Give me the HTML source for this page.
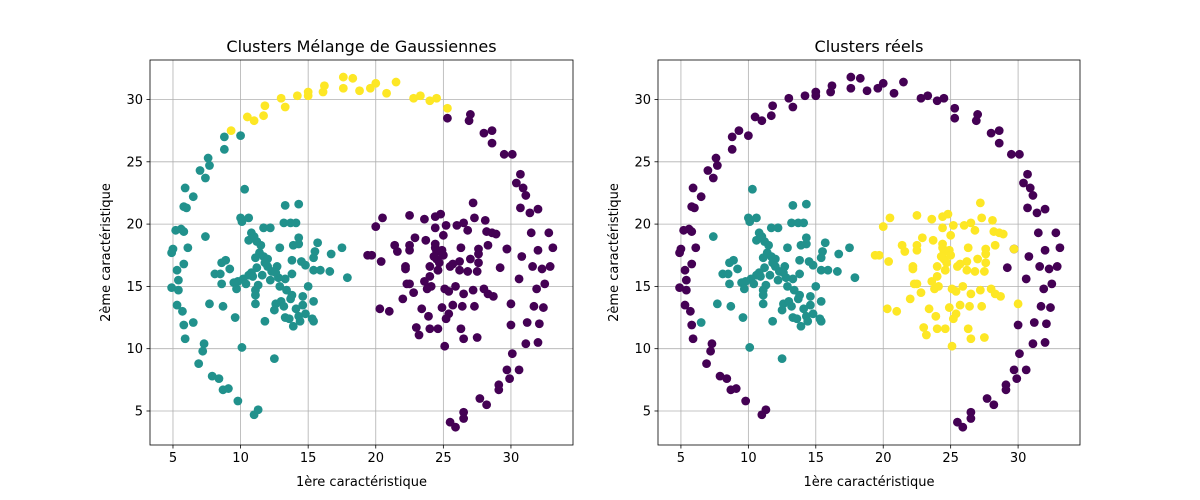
<!DOCTYPE html>
<html><head><meta charset="utf-8"><style>
html,body{margin:0;padding:0;background:#fff;}
svg{display:block;font-family:"DejaVu Sans","Liberation Sans",sans-serif;}
</style></head><body>
<svg id="fig" width="1200" height="500" viewBox="0 0 1200 500"></svg>
<script>
const ringX=[9.3,10.5,11,11.7,11.8,13,13.3,14.2,15,15,16.1,16.2,17.6,17.6,18.3,18.8,19.6,20,20.8,21.5,22.8,23.3,24,24.5,25.3,
10,8.8,8.8,7.6,7.7,7,7.4,5.9,6.5,6,5.8,5.6,5.2,5.8,5,4.9,6.1,5.3,5.8,4.9,5.4,5.4,5.3,5.7,5.8,5.9,6.9,7.3,7.2,7.9,8.4,8.7,9.1,9.8,11,11.3,
25.3,26.9,27,28,28.6,28.6,29.5,30.1,30.7,30.4,30.9,31.1,30.7,31.4,32,31.5,32.8,33.1,32,30.8,31.6,32.3,32.9,32.5,31.9,30.6,31.7,32.4,31.2,32.1,31.1,32,30,30.1,29.7,30.6,29.9,29.1,29.1,27.7,28.2,26.5,26.5,25.5,25.9,29.2,29.7];
const ringY=[27.5,28.6,28.3,28.7,29.5,30.1,29.4,30.3,30.3,30.6,30.6,31.1,31.8,30.9,31.7,30.7,30.9,31.3,30.5,31.4,30.1,30.3,29.9,30.1,29.3,
27.1,27,26,25.3,24.7,24.3,23.7,22.9,22.2,21.3,21.4,19.6,19.5,19.4,18,17.7,18.1,16.3,16.8,14.9,15.5,14.7,13.5,13.0,11.9,10.8,8.8,10.4,9.8,7.8,7.6,6.7,6.8,5.8,4.7,5.1,
28.5,28.3,28.8,27.3,27.5,26.5,25.6,25.6,24,23.3,22.9,22.3,21.3,20.9,21.2,19.3,19.3,18.1,17.9,17.4,16.6,16.4,16.6,15.2,14.8,15.6,13.4,13.3,12.1,12,10.4,10.5,11.9,9.6,8.3,8.3,7.6,7.1,6.7,6,5.5,4.9,4.4,4.1,3.7,16.5,18];
const ringGmm=[].concat(Array(25).fill(2),Array(36).fill(1),Array(47).fill(0));
const leftX=[10.3,10,10.6,10.1,13.3,14.3,13.2,13.7,14.1,7.4,10.8,10.6,11.2,11.7,12.2,12.9,13.9,14.3,14.3,15.7,15.5,15.4,16.7,17.5,11.4,11.7,8.9,8.6,11.1,13.8,14.5,14.8,9.2,12,12.7,11.2,10.8,8.1,8.5,15.4,15.9,16.6,17.9,13.8,13.3,12.8,12.2,10.6,10.2,9.8,9.5,8.6,9.7,10.4,11.3,11.1,12.9,13.4,15,13.8,13.7,14.6,11.1,11.1,12.6,13,13.2,15.4,14.6,14.1,14.8,14.3,12.5,13.3,13.6,15.3,15.4,14.4,13.9,11.8,9.6,7.7,8.7,6.5,10.1,12.5,11,11.5,12,11.8,12.3,11.6,10.9,12.6];
const leftY=[22.8,20.5,20.5,20.2,21.5,21.6,20.1,20.1,20.1,19,19.3,18.7,18.6,19.7,19.7,18.1,18.3,18.4,18.9,18.5,17.8,17.3,17.6,18.1,17.7,17.4,17.1,16.9,17.3,17.1,17,16.7,16.4,16.6,16.6,16.5,16.1,16,16,16.3,16.3,16.2,15.7,16,15.6,15.7,15.5,15.9,15.6,15.4,15.3,15.2,14.8,15.2,15.1,14.7,15,14.7,15,14.3,14,14.2,14.3,13.6,13.6,13.8,13.4,13.8,13.5,13.2,12.8,12.6,13.1,12.5,12.4,12.4,12.2,12.2,11.8,12.2,12.5,13.6,13.4,12.1,10.1,9.2,19,18.3,17.2,16.9,16.2,15.9,15.8,16.1];
const rightX=[27.2,20.5,20,22.5,23.6,24.4,24.8,24.4,25.2,26,26.5,26.8,27.3,28.1,28.2,28.6,28.9,22.9,23.7,24.4,25,21.4,21.6,22.5,22.5,24.5,24.9,24.5,24.7,26.3,27.6,27.6,28.3,29.7,19.4,19.7,20.4,22.2,22.2,24,24.6,25.5,26.2,25.7,27,27.6,26.2,26.8,27.5,23.6,24,22.3,22.5,23.8,24.1,22.8,22,25.1,25.9,25.4,26.5,27.2,28,28.3,28.7,20.3,21,23.4,23.9,24.9,25.7,26.4,27.3,25.4,25.2,23,23.2,24,24.6,26.3,26.5,27.5,25.1,24.4,24.3,24.6,25,30];
const rightY=[21.7,20.5,19.8,20.7,20.4,20.6,20.8,19.7,19.9,19.9,20.1,19.5,20.5,20.3,19.4,19.3,19.2,18.9,18.7,18.4,19.1,18.3,17.8,18.3,17.9,17.8,17.9,17.2,16.9,18.1,18,17.6,18.3,18,17.5,17.5,17,16.6,16.4,16.6,16.3,16.6,17,16.8,17.2,16.9,16.3,16.2,16.2,15.4,15.8,15.2,15.2,14.8,15,14.5,14,14.8,15,14.6,14.4,14.7,14.8,14.4,14.2,13.2,13,13.2,12.6,13.3,13.5,13.4,13.4,12.8,12.4,11.7,11.1,11.6,11.6,11.6,10.8,10.9,10.2,18.1,17.4,16.3,17.5,13.6];
const xTicks=[5,10,15,20,25,30];
const yTicks=[5,10,15,20,25,30];
const colors=['#440154','#21918c','#fde725'];

const NS='http://www.w3.org/2000/svg';
const svg=document.getElementById('fig');
function mk(tag,attrs,parent){const e=document.createElementNS(NS,tag);for(const k in attrs)e.setAttribute(k,attrs[k]);(parent||svg).appendChild(e);return e;}

const xmin=3.30,xmax=34.59,ymin=2.27,ymax=33.17;
const panels=[
 {left:150,right:573,title:'Clusters Mélange de Gaussiennes',key:'gmm'},
 {left:658,right:1080,title:'Clusters réels',key:'true'}];
const plotTop=60,plotBottom=445;

const allX=[].concat(ringX,leftX,rightX);
const allY=[].concat(ringY,leftY,rightY);
const gmmLab=[].concat(ringGmm,Array(leftX.length).fill(1),Array(rightX.length).fill(0));
const trueLab=[].concat(Array(ringX.length).fill(0),Array(leftX.length).fill(1),Array(rightX.length).fill(2));

panels.forEach((p,pi)=>{
  const sx=v=>p.left+(v-xmin)/(xmax-xmin)*(p.right-p.left);
  const sy=v=>plotBottom-(v-ymin)/(ymax-ymin)*(plotBottom-plotTop);
  const g=mk('g',{});
  
  
  xTicks.forEach(t=>{
    const l=mk('line',{x1:sx(t),x2:sx(t),y1:plotTop,y2:plotBottom,stroke:'#b0b0b0','stroke-width':0.8},g);
    
    
    mk('line',{x1:sx(t),x2:sx(t),y1:plotBottom,y2:plotBottom+3.5,stroke:'#000','stroke-width':0.8},g);
    const tx=mk('text',{x:sx(t),y:plotBottom+17,'font-size':13,'text-anchor':'middle',fill:'#000'},g);
    tx.textContent=t;
    
    
  });
  yTicks.forEach(t=>{
    const l=mk('line',{x1:p.left,x2:p.right,y1:sy(t),y2:sy(t),stroke:'#b0b0b0','stroke-width':0.8},g);
    
    
    mk('line',{x1:p.left-3.5,x2:p.left,y1:sy(t),y2:sy(t),stroke:'#000','stroke-width':0.8},g);
    const tx=mk('text',{x:p.left-7,y:sy(t)+4.5,'font-size':13,'text-anchor':'end',fill:'#000'},g);
    tx.textContent=t;
    
    
  });
  const labs=p.key==='gmm'?gmmLab:trueLab;
  for(let i=0;i<allX.length;i++){
    const c=mk('circle',{cx:sx(allX[i]),cy:sy(allY[i]),r:4.4,fill:colors[labs[i]]},g);
    
    
  }
  const fr=mk('rect',{x:p.left,y:plotTop,width:p.right-p.left,height:plotBottom-plotTop,fill:'none',stroke:'#000','stroke-width':0.8},g);
  
  
  const ti=mk('text',{x:(p.left+p.right)/2,y:52,'font-size':16,'text-anchor':'middle',fill:'#000'},g);
  ti.textContent=p.title;
  
  
  const xl=mk('text',{x:(p.left+p.right)/2,y:486,'font-size':13,'text-anchor':'middle',fill:'#000'},g);
  xl.textContent='1ère caractéristique';
  
  
  const yx=p.left-40,yy=(plotTop+plotBottom)/2;
  const yl=mk('text',{x:yx,y:yy,'font-size':13,'text-anchor':'middle',fill:'#000',transform:`rotate(-90 ${yx} ${yy})`},g);
  yl.textContent='2ème caractéristique';
  
  
});
</script>
</body></html>
